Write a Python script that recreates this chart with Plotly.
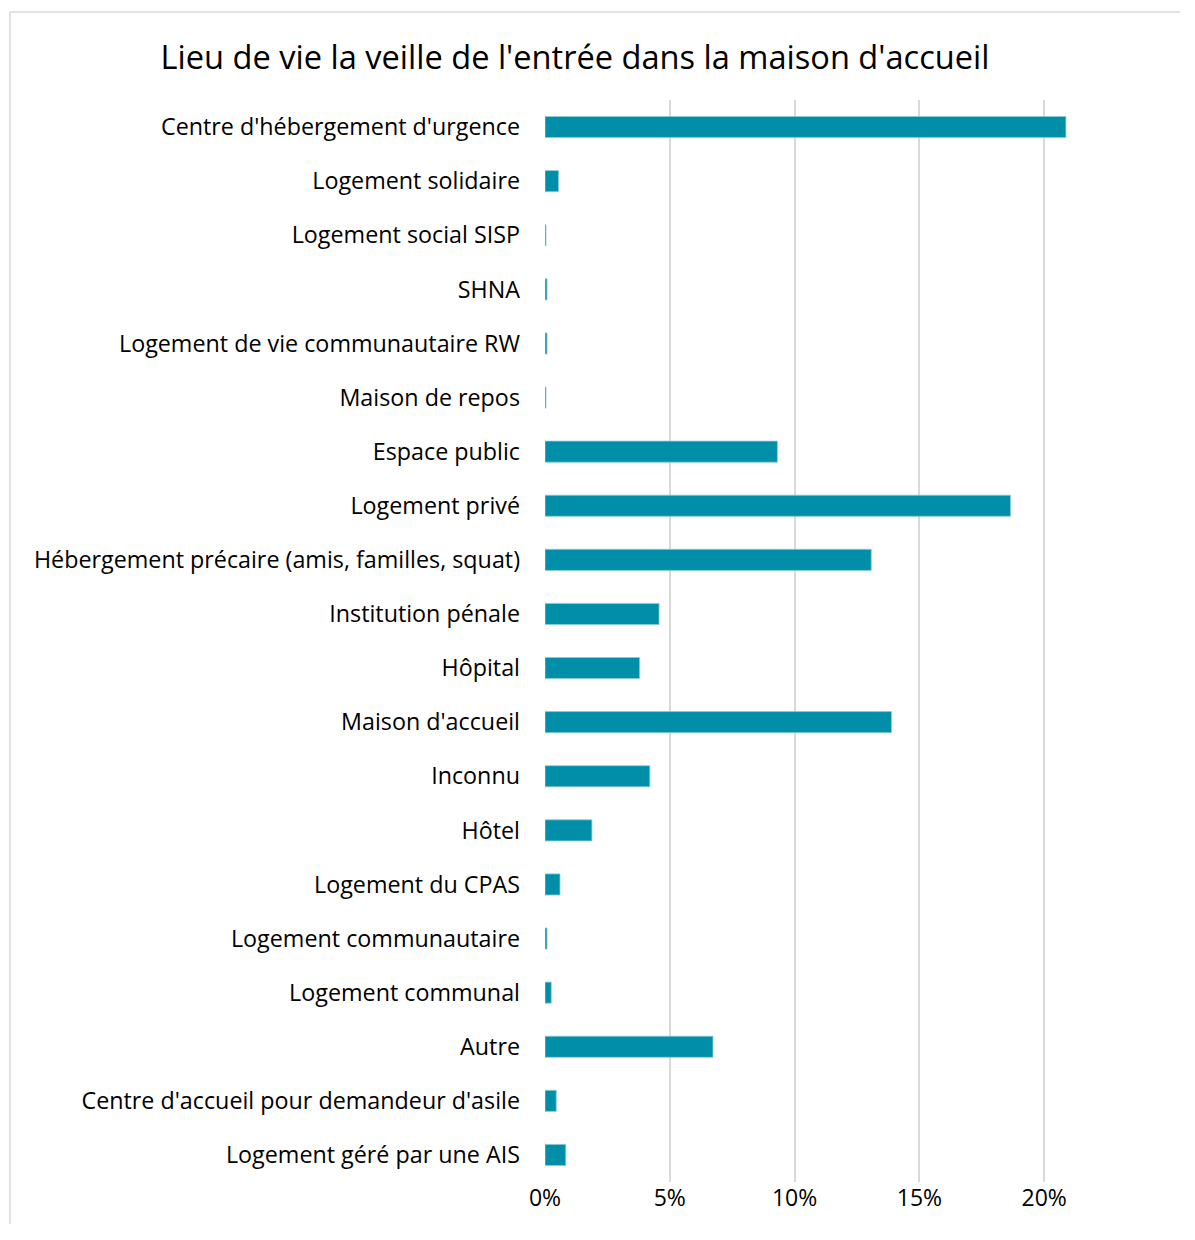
import plotly.graph_objects as go

# Categories, top to bottom
categories = [
    "Centre d'hébergement d'urgence",
    "Logement solidaire",
    "Logement social SISP",
    "SHNA",
    "Logement de vie communautaire RW",
    "Maison de repos",
    "Espace public",
    "Logement privé",
    "Hébergement précaire (amis, familles, squat)",
    "Institution pénale",
    "Hôpital",
    "Maison d'accueil",
    "Inconnu",
    "Hôtel",
    "Logement du CPAS",
    "Logement communautaire",
    "Logement communal",
    "Autre",
    "Centre d'accueil pour demandeur d'asile",
    "Logement géré par une AIS",
]

# Share of residents (fraction of total)
shares = [
    0.2087, 0.0054, 0.0004, 0.0008, 0.0008, 0.0004,
    0.0931, 0.1865, 0.1307, 0.0457, 0.0379, 0.1388,
    0.0420, 0.0188, 0.0060, 0.0008, 0.0025, 0.0673,
    0.0045, 0.0083,
]

x_ticks = [0, 0.05, 0.10, 0.15, 0.20, 0.25]
x_tick_labels = ["0%", "5%", "10%", "15%", "20%", "25%"]

title_text = "Lieu de vie la veille de l'entrée dans la maison d'accueil"

W, H = 1180, 1224
L, R, T, B = 545, W - 1169, 100, H - 1194
FONT = "Open Sans"

fig = go.Figure(
    go.Bar(
        x=shares,
        y=categories,
        orientation="h",
        width=0.39,
        marker=dict(color="#008EA8", line=dict(color="#8ACBD8", width=0.8)),
        hoverinfo="skip",
    )
)

pw = W - L - R
ph = H - T - B
# chart frame (left and top edges visible)
fig.add_shape(
    type="rect", xref="paper", yref="paper",
    x0=(10 - L) / pw, x1=(W + 20 - L) / pw,
    y0=(H - B - H - 20) / ph, y1=(H - B - 11) / ph,
    line=dict(color="#D9D9D9", width=1.5), fillcolor="rgba(0,0,0,0)",
    layer="below",
)

fig.update_layout(
    width=W, height=H,
    margin=dict(l=L, r=R, t=T, b=B, pad=0),
    paper_bgcolor="white", plot_bgcolor="white",
    showlegend=False,
    title=dict(
        text=title_text,
        x=575 / W, xanchor="center", xref="container",
        y=1 - 58 / H, yanchor="middle", yref="container",
        font=dict(family=FONT, size=32.6, color="#000000"),
    ),
    font=dict(family=FONT, color="#000000"),
)

fig.update_xaxes(
    range=[0, 0.25],
    tickvals=x_ticks, ticktext=x_tick_labels,
    showgrid=True, gridcolor="#D9D9D9", gridwidth=2,
    zeroline=False, showline=False, ticks="",
    tickfont=dict(family=FONT, size=23, color="#000000"),
    ticklabelstandoff=0,
    fixedrange=True,
)
fig.update_yaxes(
    range=[19.5, -0.5],
    showgrid=False, zeroline=False, showline=False, ticks="",
    tickfont=dict(family=FONT, size=23.3, color="#000000"),
    ticklabelstandoff=24,
    fixedrange=True,
)

fig.write_html("out.html", config={"displayModeBar": False})
